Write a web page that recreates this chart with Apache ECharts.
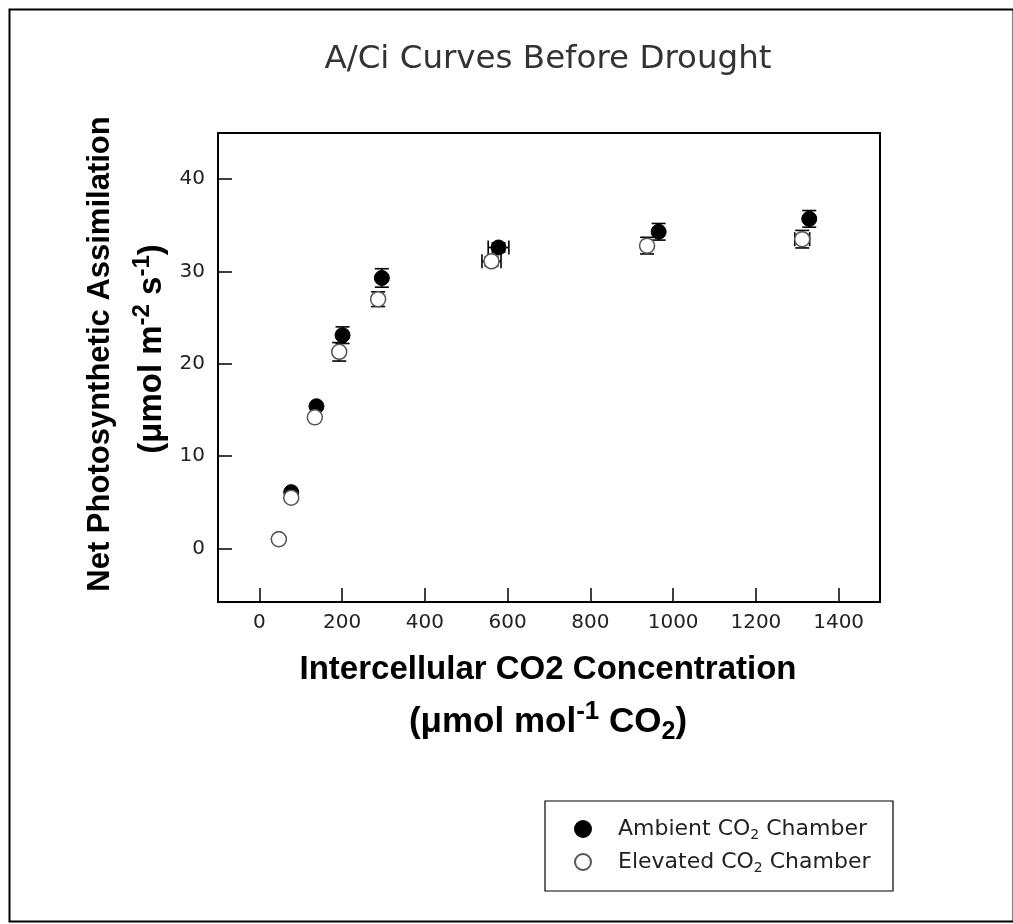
<!DOCTYPE html>
<html>
<head>
<meta charset="utf-8">
<script src="https://cdn.jsdelivr.net/npm/echarts@6/dist/echarts.min.js"></script>
<style>html,body{margin:0;padding:0;background:#fff;}#chart{width:1013px;height:924px;}</style>
</head>
<body>
<div id="chart"></div>
<script>
// ---- data ----
const ambientX    = [47, 77, 138, 201, 296, 578, 965, 1329];
const ambientY    = [1.0, 6.1, 15.4, 23.1, 29.3, 32.6, 34.3, 35.7];
const ambientXErr = [0, 0, 0, 0, 0, 25, 0, 0];
const ambientYErr = [0, 0, 0, 0.9, 1.0, 0.5, 0.9, 0.9];

const elevatedX    = [47, 77, 134, 193, 287, 561, 937, 1312];
const elevatedY    = [1.0, 5.5, 14.2, 21.3, 27.0, 31.1, 32.8, 33.5];
const elevatedXErr = [0, 0, 0, 0, 0, 23, 0, 18];
const elevatedYErr = [0, 0, 0, 1.0, 0.8, 0.5, 0.9, 0.95];

const xTicks = [0, 200, 400, 600, 800, 1000, 1200, 1400];
const yTicks = [0, 10, 20, 30, 40];

const titleText = 'A/Ci Curves Before Drought';
const seriesNames = ['Ambient CO2 Chamber', 'Elevated CO2 Chamber'];

// ---- build ----
function pts(xs, ys) { return xs.map((x, i) => [x, ys[i]]); }
function errs(xs, ys, ex, ey) { return xs.map((x, i) => [x, ys[i], ex[i], ey[i]]); }

function errRender(params, api) {
  const x = api.value(0), y = api.value(1), ex = api.value(2), ey = api.value(3);
  const cap = 7;
  const style = { stroke: '#000', lineWidth: 1.6, fill: null };
  const children = [];
  if (ey > 0) {
    const t = api.coord([x, y + ey]), b = api.coord([x, y - ey]);
    children.push({ type: 'line', shape: { x1: t[0], y1: t[1], x2: b[0], y2: b[1] }, style });
    children.push({ type: 'line', shape: { x1: t[0] - cap, y1: t[1], x2: t[0] + cap, y2: t[1] }, style });
    children.push({ type: 'line', shape: { x1: b[0] - cap, y1: b[1], x2: b[0] + cap, y2: b[1] }, style });
  }
  if (ex > 0) {
    const l = api.coord([x - ex, y]), r = api.coord([x + ex, y]);
    children.push({ type: 'line', shape: { x1: l[0], y1: l[1], x2: r[0], y2: r[1] }, style });
    children.push({ type: 'line', shape: { x1: l[0], y1: l[1] - cap, x2: l[0], y2: l[1] + cap }, style });
    children.push({ type: 'line', shape: { x1: r[0], y1: r[1] - cap, x2: r[0], y2: r[1] + cap }, style });
  }
  return { type: 'group', children };
}

const chart = echarts.init(document.getElementById('chart'), null, { renderer: 'canvas' });
const tickFont = 'DejaVu Sans';
const boldFont = 'Liberation Sans';

const option = {
  backgroundColor: '#fff',
  animation: false,
  grid: { left: 218, right: 133, top: 133, bottom: 322, show: true, borderColor: '#000', borderWidth: 2, backgroundColor: 'transparent' },
  xAxis: {
    type: 'value', min: -100, max: 1500,
    splitLine: { show: false },
    axisLine: { show: true, onZero: false, lineStyle: { color: '#000', width: 2 } },
    axisTick: { show: true, inside: true, length: 14, customValues: xTicks, lineStyle: { color: '#000', width: 1.5 } },
    axisLabel: { customValues: xTicks, margin: 11, color: '#222', fontFamily: tickFont, fontSize: 20, formatter: v => String(v) }
  },
  yAxis: {
    type: 'value', min: -5.8, max: 45,
    splitLine: { show: false },
    axisLine: { show: true, onZero: false, lineStyle: { color: '#000', width: 2 } },
    axisTick: { show: true, inside: true, length: 14, customValues: yTicks, lineStyle: { color: '#000', width: 1.5 } },
    axisLabel: { customValues: yTicks, margin: 13, color: '#222', fontFamily: tickFont, fontSize: 20, formatter: v => String(v) }
  },
  legend: {
    orient: 'vertical', left: 569, top: 811,
    itemWidth: 60, itemHeight: 16, itemGap: 7,
    data: seriesNames,
    formatter: n => n.replace('CO2', 'CO{sub|2}'),
    textStyle: {
      fontFamily: tickFont, fontSize: 22, color: '#222', lineHeight: 26,
      rich: { sub: { fontFamily: tickFont, fontSize: 14, color: '#222', lineHeight: 8, verticalAlign: 'bottom' } }
    }
  },
  graphic: [
    { type: 'rect', left: 7, top: 7, shape: { x: 0, y: 0, width: 1004, height: 912 }, style: { fill: null, stroke: '#000', lineWidth: 2 }, z: 100 },
    { type: 'rect', shape: { x: 545, y: 801, width: 348, height: 90 }, style: { fill: null, stroke: '#000', lineWidth: 1.2 }, z: 100 },
    { type: 'text', x: 548, y: 60, style: { text: titleText, font: '32.5px "DejaVu Sans"', fill: '#333', align: 'center', verticalAlign: 'middle' } },
    { type: 'text', x: 548, y: 670, style: { text: 'Intercellular CO2 Concentration', font: 'bold 33px "Liberation Sans"', fill: '#000', align: 'center', verticalAlign: 'middle' } },
    { type: 'text', x: 548, y: 722, style: {
        text: '{b|(μmol mol}{sup|-1}{b| CO}{sub|2}{b|)}', align: 'center', verticalAlign: 'middle',
        rich: {
          b: { fontFamily: boldFont, fontWeight: 'bold', fontSize: 35, fill: '#000', lineHeight: 46 },
          sup: { fontFamily: boldFont, fontWeight: 'bold', fontSize: 26, fill: '#000', lineHeight: 18, verticalAlign: 'top' },
          sub: { fontFamily: boldFont, fontWeight: 'bold', fontSize: 25, fill: '#000', lineHeight: 14, verticalAlign: 'bottom' }
        } } },
    { type: 'text', x: 100, y: 354, rotation: Math.PI / 2, style: { text: 'Net Photosynthetic Assimilation', font: 'bold 31px "Liberation Sans"', fill: '#000', align: 'center', verticalAlign: 'middle' } },
    { type: 'text', x: 152, y: 349, rotation: Math.PI / 2, style: {
        text: '{b|(μmol m}{sup|-2}{b| s}{sup|-1}{b|)}', align: 'center', verticalAlign: 'middle',
        rich: {
          b: { fontFamily: boldFont, fontWeight: 'bold', fontSize: 33, fill: '#000', lineHeight: 44 },
          sup: { fontFamily: boldFont, fontWeight: 'bold', fontSize: 24, fill: '#000', lineHeight: 17, verticalAlign: 'top' }
        } } }
  ],
  series: [
    { type: 'custom', name: 'ambErr', renderItem: errRender, data: errs(ambientX, ambientY, ambientXErr, ambientYErr), z: 2, silent: true },
    { type: 'scatter', name: seriesNames[0], data: pts(ambientX, ambientY), symbol: 'circle', symbolSize: 15,
      itemStyle: { color: '#000', borderColor: '#000', borderWidth: 1, opacity: 1 }, z: 3 },
    { type: 'custom', name: 'elvErr', renderItem: errRender, data: errs(elevatedX, elevatedY, elevatedXErr, elevatedYErr), z: 4, silent: true },
    { type: 'scatter', name: seriesNames[1], data: pts(elevatedX, elevatedY), symbol: 'circle', symbolSize: 15,
      itemStyle: { color: '#fff', borderColor: '#555', borderWidth: 1.5, opacity: 1 }, z: 5 }
  ]
};
chart.setOption(option);
</script>
</body>
</html>
